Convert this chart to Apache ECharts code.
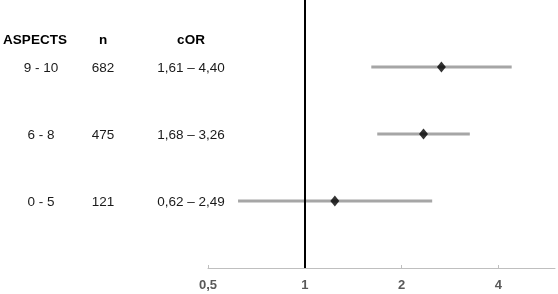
<!DOCTYPE html>
<html>
<head>
<meta charset="utf-8">
<script src="https://cdn.jsdelivr.net/npm/echarts@6/dist/echarts.min.js"></script>
<style>
html,body{margin:0;padding:0;background:#fff;}
#chart{width:558px;height:294px;}
</style>
</head>
<body>
<div id="chart"></div>
<script>
// rows, top to bottom
var groups = ['9 - 10', '6 - 8', '0 - 5'];
var counts = ['682', '475', '121'];
var ciText = ['1,61 – 4,40', '1,68 – 3,26', '0,62 – 2,49'];
var orPoint = [2.66, 2.34, 1.24];
var ciLow = [1.61, 1.68, 0.62];
var ciHigh = [4.40, 3.26, 2.49];
var rowPos = [3, 2, 1];
var xTicks = [0.5, 1, 2, 4];
var headers = ['ASPECTS', 'n', 'cOR'];

var headX = [35, 103, 191];
var colX = [41, 103, 191];

var chart = echarts.init(document.getElementById('chart'));

var barData = [], pointData = [];
for (var i = 0; i < groups.length; i++) {
    barData.push([ciLow[i], ciHigh[i], rowPos[i]]);
    pointData.push([orPoint[i], rowPos[i]]);
}

chart.setOption({
    animation: false,
    grid: {left: 208, right: 3, top: 0, bottom: 26},
    xAxis: {
        type: 'log',
        logBase: 2,
        min: 0.5,
        max: 6,
        axisLine: {lineStyle: {color: '#bfbfbf', width: 1}},
        axisTick: {show: true, inside: true, length: 3, customValues: xTicks, lineStyle: {color: '#bfbfbf'}},
        axisLabel: {
            customValues: xTicks,
            margin: 11,
            color: '#595959',
            fontWeight: 'bold',
            fontSize: 13,
            fontFamily: 'Liberation Sans, Arial, sans-serif',
            formatter: function (v) { return String(v).replace('.', ','); }
        },
        splitLine: {show: false}
    },
    yAxis: {
        type: 'value',
        min: 0,
        max: 4,
        show: false
    },
    series: [
        {
            type: 'custom',
            data: barData,
            renderItem: function (params, api) {
                var a = api.coord([api.value(0), api.value(2)]);
                var b = api.coord([api.value(1), api.value(2)]);
                return {
                    type: 'line',
                    shape: {x1: a[0], y1: a[1], x2: b[0], y2: b[1]},
                    style: {stroke: '#a6a6a6', lineWidth: 3}
                };
            },
            encode: {x: [0, 1], y: 2},
            z: 2
        },
        {
            type: 'scatter',
            data: pointData,
            symbol: 'diamond',
            symbolSize: [9, 11],
            itemStyle: {color: '#000'},
            z: 4,
            markLine: {
                silent: true,
                symbol: 'none',
                label: {show: false},
                lineStyle: {color: '#000', width: 2, type: 'solid'},
                data: [{xAxis: 1}],
                z: 3
            }
        }
    ]
});

// text table on the left, y taken from the axis
var texts = [];
var headY = chart.convertToPixel({yAxisIndex: 0}, 3.4);
for (var c = 0; c < headers.length; c++) {
    texts.push({
        type: 'text', x: headX[c], y: headY,
        style: {text: headers[c], fill: '#000', font: 'bold 13.5px Liberation Sans, Arial, sans-serif',
            align: 'center', verticalAlign: 'middle'}
    });
}
for (var r = 0; r < groups.length; r++) {
    var y = chart.convertToPixel({yAxisIndex: 0}, rowPos[r]) + 1;
    var cols = [groups[r], counts[r], ciText[r]];
    for (var k = 0; k < cols.length; k++) {
        texts.push({
            type: 'text', x: colX[k], y: y,
            style: {text: cols[k], fill: '#1a1a1a', font: '13.5px Liberation Sans, Arial, sans-serif',
                align: 'center', verticalAlign: 'middle'}
        });
    }
}
chart.setOption({graphic: texts});
</script>
</body>
</html>
